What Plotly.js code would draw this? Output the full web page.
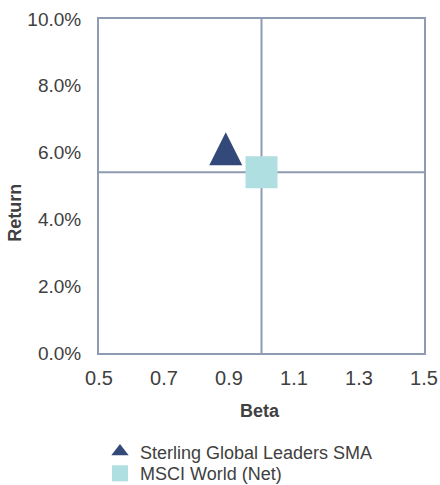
<!DOCTYPE html>
<html>
<head>
<meta charset="utf-8">
<script src="https://cdn.plot.ly/plotly-3.0.1.min.js"></script>
<style>html,body{margin:0;padding:0;background:#fff;}#chart{width:440px;height:485px;}</style>
</head>
<body>
<div id="chart"></div>
<script>
// Data
const seriesNames = ["Sterling Global Leaders SMA", "MSCI World (Net)"];
const betaValues = [0.89, 1.00];
const returnValues = [0.061, 0.0541];
const xTickValues = [0.5, 0.7, 0.9, 1.1, 1.3, 1.5];
const yTickValues = [0, 0.02, 0.04, 0.06, 0.08, 0.10];
const xRange = [0.5, 1.5];
const yRange = [0, 0.10];
const seriesColors = ["#33497a", "#afdfe1"];

const lineColor = "#8e9bb2";
const textColor = "#404040";
const font = "Liberation Sans, Arial, sans-serif";

const traces = [
  {
    type: "scatter", mode: "markers", name: seriesNames[0], showlegend: false,
    x: [betaValues[0]], y: [returnValues[0]],
    marker: {symbol: "arrow-down", angle: 180, size: 33, color: seriesColors[0], standoff: 17, line: {width: 0}},
    cliponaxis: false
  },
  {
    // legend entry for the portfolio series
    type: "scatter", mode: "markers", name: seriesNames[0], legend: "legend",
    x: [null], y: [null],
    marker: {symbol: "triangle-up", size: 15, color: seriesColors[0], line: {width: 0}}
  },
  {
    type: "scatter", mode: "markers", name: seriesNames[1], legend: "legend2",
    x: [betaValues[1]], y: [returnValues[1]],
    marker: {symbol: "square", size: 32, color: seriesColors[1], line: {width: 0}},
    cliponaxis: false
  }
];

// crosshair at benchmark position
const shapes = [
  {type: "line", xref: "x", yref: "y", x0: betaValues[1], x1: betaValues[1], y0: yRange[0], y1: yRange[1],
   line: {color: lineColor, width: 2}, layer: "below"},
  {type: "line", xref: "x", yref: "y", x0: xRange[0], x1: xRange[1], y0: returnValues[1], y1: returnValues[1],
   line: {color: lineColor, width: 2}, layer: "below"}
];

const legendCommon = {
  x: 0.003, xanchor: "left", yanchor: "middle",
  font: {size: 18, color: textColor}, bgcolor: "rgba(0,0,0,0)",
  itemwidth: 30, tracegroupgap: 0
};

const layout = {
  width: 440, height: 485,
  margin: {l: 99, r: 16, t: 19, b: 132, autoexpand: false},
  paper_bgcolor: "#fff", plot_bgcolor: "#fff",
  font: {family: font, color: textColor, size: 18},
  showlegend: true,
  legend: Object.assign({}, legendCommon, {y: -0.296}),
  legend2: Object.assign({}, legendCommon, {y: -0.361}),
  xaxis: {
    range: xRange, tickvals: xTickValues, ticktext: xTickValues.map(v => v.toFixed(1)),
    showgrid: false, zeroline: false, showline: true, mirror: true,
    linecolor: lineColor, linewidth: 2, ticks: "",
    tickfont: {size: 20, color: textColor}, ticklabelstandoff: 6
  },
  yaxis: {
    range: yRange, tickvals: yTickValues, tickformat: ".1%",
    showgrid: false, zeroline: false, showline: true, mirror: true,
    linecolor: lineColor, linewidth: 2, ticks: "",
    tickfont: {size: 19, color: textColor}, ticklabelstandoff: 12
  },
  shapes: shapes,
  annotations: [
    {text: "<b>Beta</b>", xref: "paper", yref: "paper", x: 0.494, y: -0.174,
     xanchor: "center", yanchor: "middle", showarrow: false,
     font: {size: 18, color: textColor}},
    {text: "<b>Return</b>", xref: "paper", yref: "paper", x: -0.258, y: 0.42,
     xanchor: "center", yanchor: "middle", textangle: -90, showarrow: false,
     font: {size: 18, color: textColor}}
  ]
};

Plotly.newPlot("chart", traces, layout, {displayModeBar: false, staticPlot: true});
</script>
</body>
</html>
